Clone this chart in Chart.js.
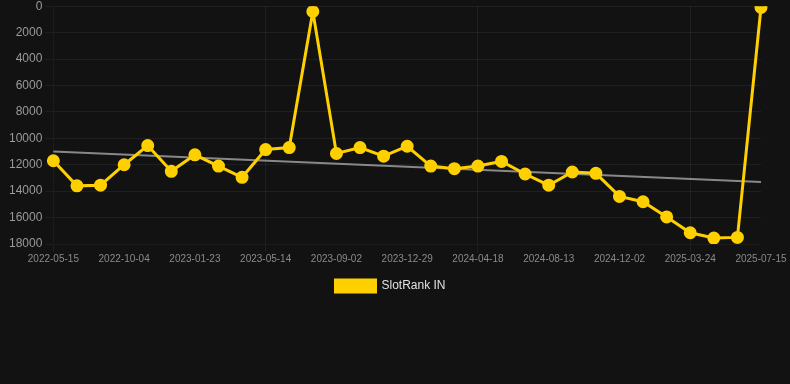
<!DOCTYPE html>
<html>
<head>
<meta charset="utf-8">
<script src="https://cdn.jsdelivr.net/npm/chart.js@4.4.0/dist/chart.umd.min.js"></script>
<style>
  html, body { margin: 0; padding: 0; background: #121212; overflow: hidden; }
  #wrap { width: 790px; height: 306px; position: relative; margin-top: -4px; }
</style>
</head>
<body>
<div id="wrap"><canvas id="chart1"></canvas></div>
<script>
  "use strict";

  // dates (every third one is shown on the axis)
  var labels = [
    '2022-05-15', '2022-07-01', '2022-08-17', '2022-10-04', '2022-11-10', '2022-12-17',
    '2023-01-23', '2023-03-01', '2023-04-07', '2023-05-14', '2023-06-20', '2023-07-27',
    '2023-09-02', '2023-10-11', '2023-11-20', '2023-12-29', '2024-02-05', '2024-03-12',
    '2024-04-18', '2024-05-26', '2024-07-05', '2024-08-13', '2024-09-19', '2024-10-26',
    '2024-12-02', '2025-01-08', '2025-02-15', '2025-03-24', '2025-05-01', '2025-06-07',
    '2025-07-15'
  ];

  var rankValues = [
    11700, 13600, 13550, 12000, 10550, 12500, 11250, 12100, 12950, 10850, 10700,
    400, 11150, 10700, 11350, 10600, 12100, 12300, 12100, 11750, 12700, 13550,
    12550, 12650, 14400, 14800, 15950, 17150, 17550, 17500, 100
  ];

  // trend line end points
  var trendStart = 11000;
  var trendEnd = 13300;

  var yTicks = [0, 2000, 4000, 6000, 8000, 10000, 12000, 14000, 16000, 18000];

  var trendValues = labels.map(function(l, i) {
    if (i === 0) return trendStart;
    if (i === labels.length - 1) return trendEnd;
    return null;
  });

  var gridColor = "rgba(255, 255, 255, 0.06)";

  // nudge the legend back to the middle of the page (right padding pushes it left)
  var legendShift = {
      id: 'legendShift',
      afterLayout: function(chart) {
          chart.legend.left += 7;
          chart.legend.right += 7;
      }
  };

  var ctx = document.getElementById('chart1').getContext('2d');

  var myChart = new Chart(ctx, {
      type: 'line',
      data: {
          labels: labels,
          datasets: [{
              label: 'SlotRank IN',
              data: rankValues,
              borderColor: "#ffd000",
              backgroundColor: "#ffd000",
              borderWidth: 3,
              pointRadius: 5,
              pointHoverRadius: 6,
              tension: 0,
              order: 1
          },
          {
              label: 'trend',
              data: trendValues,
              borderColor: "rgba(150, 150, 150, 0.9)",
              backgroundColor: "rgba(150, 150, 150, 0.9)",
              borderWidth: 2,
              pointRadius: 0,
              spanGaps: true,
              order: 2
          }]
      },
      plugins: [legendShift],
      options: {
          maintainAspectRatio: false,
          animation: false,
          layout: {
              padding: { left: 6, right: 29, top: 0, bottom: 0 }
          },
          plugins: {
              legend: {
                  position: 'bottom',
                  display: true,
                  labels: {
                      color: "#e0e0e0",
                      boxWidth: 40,
                      boxHeight: 12,
                      padding: 14,
                      font: { size: 12 },
                      filter: function(item) { return item.text === 'SlotRank IN'; }
                  }
              },
              tooltip: { enabled: false }
          },
          scales: {
              x: {
                  ticks: {
                      color: "#8a8a8a",
                      font: { size: 10 },
                      padding: 1,
                      autoSkip: false,
                      maxRotation: 0,
                      callback: function(val, i) {
                          return i % 3 === 0 ? labels[i] : null;
                      }
                  },
                  grid: {
                      display: true,
                      color: function(c) {
                          return c.index % 3 === 0 ? gridColor : 'transparent';
                      }
                  }
              },
              y: {
                  reverse: true,
                  min: 0,
                  max: 18000,
                  afterBuildTicks: function(axis) {
                      axis.ticks = yTicks.map(function(v) { return { value: v }; });
                  },
                  ticks: {
                      color: "#9a9a9a",
                      font: { size: 12 },
                      callback: function(v) { return String(v); }
                  },
                  grid: {
                      display: true,
                      color: gridColor
                  }
              }
          }
      }
  });
</script>
</body>
</html>
